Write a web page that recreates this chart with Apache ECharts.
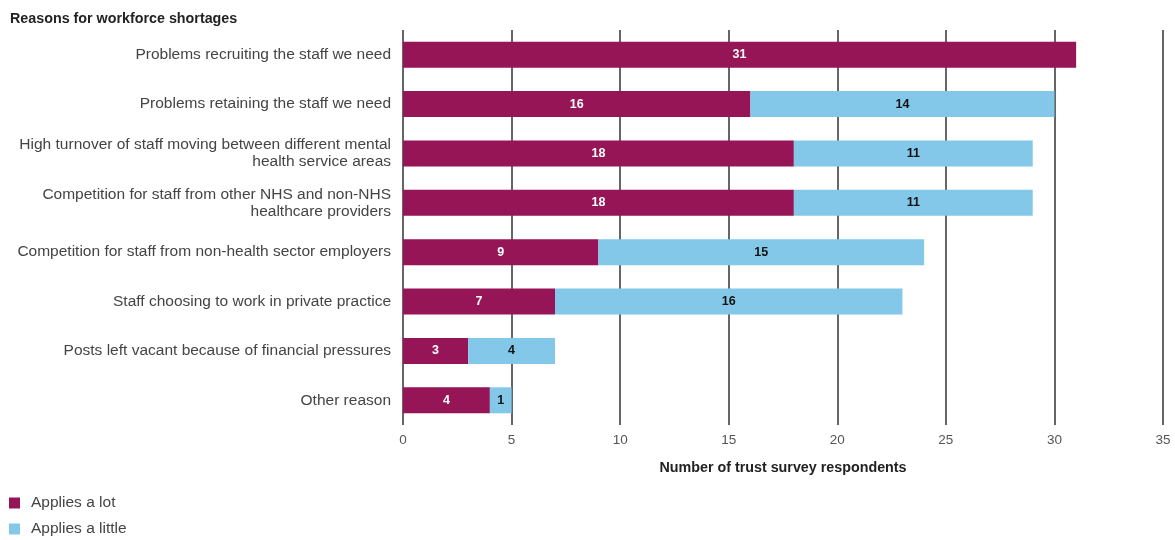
<!DOCTYPE html>
<html>
<head>
<meta charset="utf-8">
<script src="https://cdn.jsdelivr.net/npm/echarts@6/dist/echarts.min.js"></script>
<style>
  html, body { margin: 0; padding: 0; background: #fff; }
  #chart { width: 1175px; height: 540px; }
</style>
</head>
<body>
<div id="chart"></div>
<script>
const categories = [
    'Problems recruiting the staff we need',
    'Problems retaining the staff we need',
    'High turnover of staff moving between different mental\nhealth service areas',
    'Competition for staff from other NHS and non-NHS\nhealthcare providers',
    'Competition for staff from non-health sector employers',
    'Staff choosing to work in private practice',
    'Posts left vacant because of financial pressures',
    'Other reason'
]
const appliesLot = [31, 16, 18, 18, 9, 7, 3, 4]
const appliesLittle = [null, 14, 11, 11, 15, 16, 4, 1]
const xTicks = [0, 5, 10, 15, 20, 25, 30, 35]

const fontFamily = '"Liberation Sans", Arial, sans-serif'

const myChart = echarts.init(document.getElementById('chart'))

const option = {
    backgroundColor: '#fff',
    textStyle: { fontFamily: fontFamily },
    title: {
        text: 'Reasons for workforce shortages',
        left: 5,
        top: 7,
        textStyle: { fontSize: 14.3, fontWeight: 'bold', color: '#222', fontFamily: fontFamily }
    },
    legend: {
        orient: 'vertical',
        left: 9,
        top: 495,
        padding: 0,
        height: 46,
        itemWidth: 11,
        itemHeight: 11,
        itemGap: 10,
        icon: 'rect',
        textStyle: { fontSize: 15.5, color: '#444', fontFamily: fontFamily, padding: [0, 0, 0, 6] }
    },
    grid: {
        left: 403,
        right: 12,
        top: 30,
        bottom: 115
    },
    xAxis: {
        type: 'value',
        min: xTicks[0],
        max: xTicks[xTicks.length - 1],
        interval: 5,
        name: 'Number of trust survey respondents',
        nameLocation: 'middle',
        nameGap: 36,
        nameTextStyle: { fontSize: 14.3, color: '#222', fontWeight: 'bold', fontFamily: fontFamily },
        axisLine: { show: false },
        axisTick: { show: false },
        axisLabel: { color: '#555', fontSize: 13.5, margin: 8 },
        splitLine: { show: true, lineStyle: { color: '#666', width: 2 } }
    },
    yAxis: {
        type: 'category',
        inverse: true,
        data: categories,
        axisLine: { show: false },
        axisTick: { show: false },
        axisLabel: { color: '#444', fontSize: 15.5, margin: 12, lineHeight: 17, align: 'right' }
    },
    series: [
        {
            name: 'Applies a lot',
            type: 'bar',
            stack: 'total',
            barWidth: 26,
            data: appliesLot,
            itemStyle: { color: '#951556' },
            label: { show: true, position: 'inside', color: '#fff', fontSize: 12.5, fontWeight: 'bold' }
        },
        {
            name: 'Applies a little',
            type: 'bar',
            stack: 'total',
            barWidth: 26,
            data: appliesLittle,
            itemStyle: { color: '#83c8e8' },
            label: { show: true, position: 'inside', color: '#111', fontSize: 12.5, fontWeight: 'bold' }
        }
    ]
}

option && myChart.setOption(option)
</script>
</body>
</html>
